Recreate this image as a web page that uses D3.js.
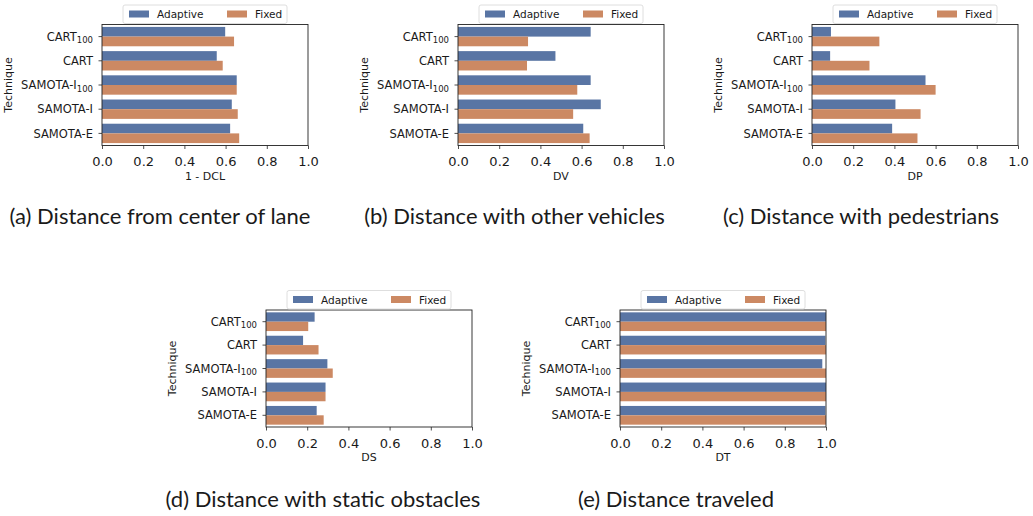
<!DOCTYPE html>
<html>
<head>
<meta charset="utf-8">
<script src="https://cdn.jsdelivr.net/npm/d3@7"></script>
<style>
body { margin: 0; background: #fff; }
svg text { font-family: "DejaVu Sans", sans-serif; fill: #1a1a1a; }
.caption { font-family: "Lato", sans-serif; font-size: 22px; }
</style>
</head>
<body>
<svg id="chart"></svg>
<script>
width = 1033
height = 516

const techniques = ["CART_100", "CART", "SAMOTA-I_100", "SAMOTA-I", "SAMOTA-E"]
const series = ["Adaptive", "Fixed"]
const xTicks = [0, 0.2, 0.4, 0.6, 0.8, 1.0]

// values
const dclAdaptive = [0.598, 0.557, 0.654, 0.630, 0.622]
const dclFixed = [0.641, 0.586, 0.654, 0.659, 0.666]
const dvAdaptive = [0.644, 0.473, 0.644, 0.693, 0.608]
const dvFixed = [0.340, 0.335, 0.579, 0.559, 0.639]
const dpAdaptive = [0.092, 0.088, 0.551, 0.405, 0.389]
const dpFixed = [0.327, 0.279, 0.600, 0.527, 0.512]
const dsAdaptive = [0.236, 0.180, 0.298, 0.289, 0.246]
const dsFixed = [0.205, 0.255, 0.324, 0.289, 0.280]
const dtAdaptive = [1.0, 0.997, 0.982, 1.0, 0.997]
const dtFixed = [1.0, 1.0, 1.0, 1.0, 1.0]

const metricLabels = ["1 - DCL", "DV", "DP", "DS", "DT"]
const captions = [
    "(a) Distance from center of lane",
    "(b) Distance with other vehicles",
    "(c) Distance with pedestrians",
    "(d) Distance with static obstacles",
    "(e) Distance traveled"
]

var color = d3.scaleOrdinal().domain(series).range(["#5975a4", "#cc8963"])

let svg = d3.select("#chart")
    .attr("width", width)
    .attr("height", height)

const panels = [
    { left: 102, top: 24.5, h: 121, vals: [dclAdaptive, dclFixed], cap: 160 },
    { left: 458, top: 24.5, h: 121, vals: [dvAdaptive, dvFixed], cap: 514.5 },
    { left: 812, top: 24.5, h: 121, vals: [dpAdaptive, dpFixed], cap: 861 },
    { left: 266, top: 310, h: 117, vals: [dsAdaptive, dsFixed], cap: 323 },
    { left: 620, top: 310, h: 117, vals: [dtAdaptive, dtFixed], cap: 676 }
]

const PW = 206

function drawPanel(p, i) {
    let g = svg.append("g").attr("transform", `translate(${p.left}, ${p.top})`)

    let x = d3.scaleLinear().domain([0, 1]).range([0, PW])
    let y = d3.scaleBand().domain(techniques).range([0, p.h]).paddingInner(0.2).paddingOuter(0.1)
    let ySub = d3.scaleBand().domain(series).range([0, y.bandwidth()])

    let rows = []
    techniques.forEach((t, ti) => {
        series.forEach((s, si) => rows.push({ t: t, s: s, v: p.vals[si][ti] }))
    })

    g.selectAll("rect.bar")
        .data(rows)
        .enter().append("rect")
        .attr("class", "bar")
        .attr("x", x(0))
        .attr("y", d => y(d.t) + ySub(d.s))
        .attr("width", d => x(d.v) - x(0))
        .attr("height", ySub.bandwidth())
        .attr("fill", d => color(d.s))

    // x axis
    let xa = g.append("g")
        .attr("transform", `translate(0, ${p.h})`)
        .call(d3.axisBottom(x).tickValues(xTicks).tickFormat(d3.format(".1f")).tickSize(3.5).tickPadding(8))
    xa.select(".domain").remove()
    xa.selectAll("line").attr("stroke", "#222").attr("stroke-width", 0.8)
    xa.selectAll("text").style("font-size", "13px").attr("fill", "#1a1a1a")

    // y axis
    let ya = g.append("g")
        .call(d3.axisLeft(y).tickSize(3.5).tickPadding(5).tickFormat(""))
    ya.select(".domain").remove()
    ya.selectAll("line").attr("stroke", "#222").attr("stroke-width", 0.8)
    ya.selectAll(".tick").append("text")
        .attr("x", -9)
        .attr("dy", "0.36em")
        .attr("text-anchor", "end")
        .style("font-size", "11.5px")
        .each(function(d) {
            let parts = d.split("_")
            let el = d3.select(this)
            el.append("tspan").text(parts[0])
            if (parts[1]) {
                el.append("tspan").attr("dy", "0.3em").style("font-size", "8.5px").text(parts[1])
            }
        })

    // frame
    g.append("rect")
        .attr("x", 0).attr("y", 0)
        .attr("width", PW).attr("height", p.h)
        .attr("fill", "none")
        .attr("stroke", "#222")
        .attr("stroke-width", 0.9)

    // axis labels
    g.append("text")
        .attr("x", PW / 2)
        .attr("y", p.h + 34)
        .attr("text-anchor", "middle")
        .style("font-size", "11px")
        .text(metricLabels[i])

    g.append("text")
        .attr("transform", `translate(-90, ${p.h / 2}) rotate(-90)`)
        .attr("text-anchor", "middle")
        .style("font-size", "11px")
        .text("Technique")

    // legend
    let lg = g.append("g").attr("transform", `translate(21, ${-19.5})`)
    lg.append("rect")
        .attr("width", 164).attr("height", 18.5)
        .attr("rx", 2)
        .attr("fill", "#fff")
        .attr("fill-opacity", 0.8)
        .attr("stroke", "#d6d6d6")
        .attr("stroke-width", 0.8)
    series.forEach((s, si) => {
        let off = si * 98
        lg.append("rect")
            .attr("x", 6 + off).attr("y", 5.5)
            .attr("width", 20).attr("height", 7)
            .attr("fill", color(s))
        lg.append("text")
            .attr("x", 34 + off).attr("y", 13)
            .style("font-size", "10.5px")
            .text(s)
    })

    // caption
    svg.append("text")
        .attr("class", "caption")
        .attr("x", p.cap)
        .attr("y", p.top < 100 ? 224 : 507)
        .attr("text-anchor", "middle")
        .text(captions[i])
}

panels.forEach(drawPanel)
</script>
</body>
</html>
